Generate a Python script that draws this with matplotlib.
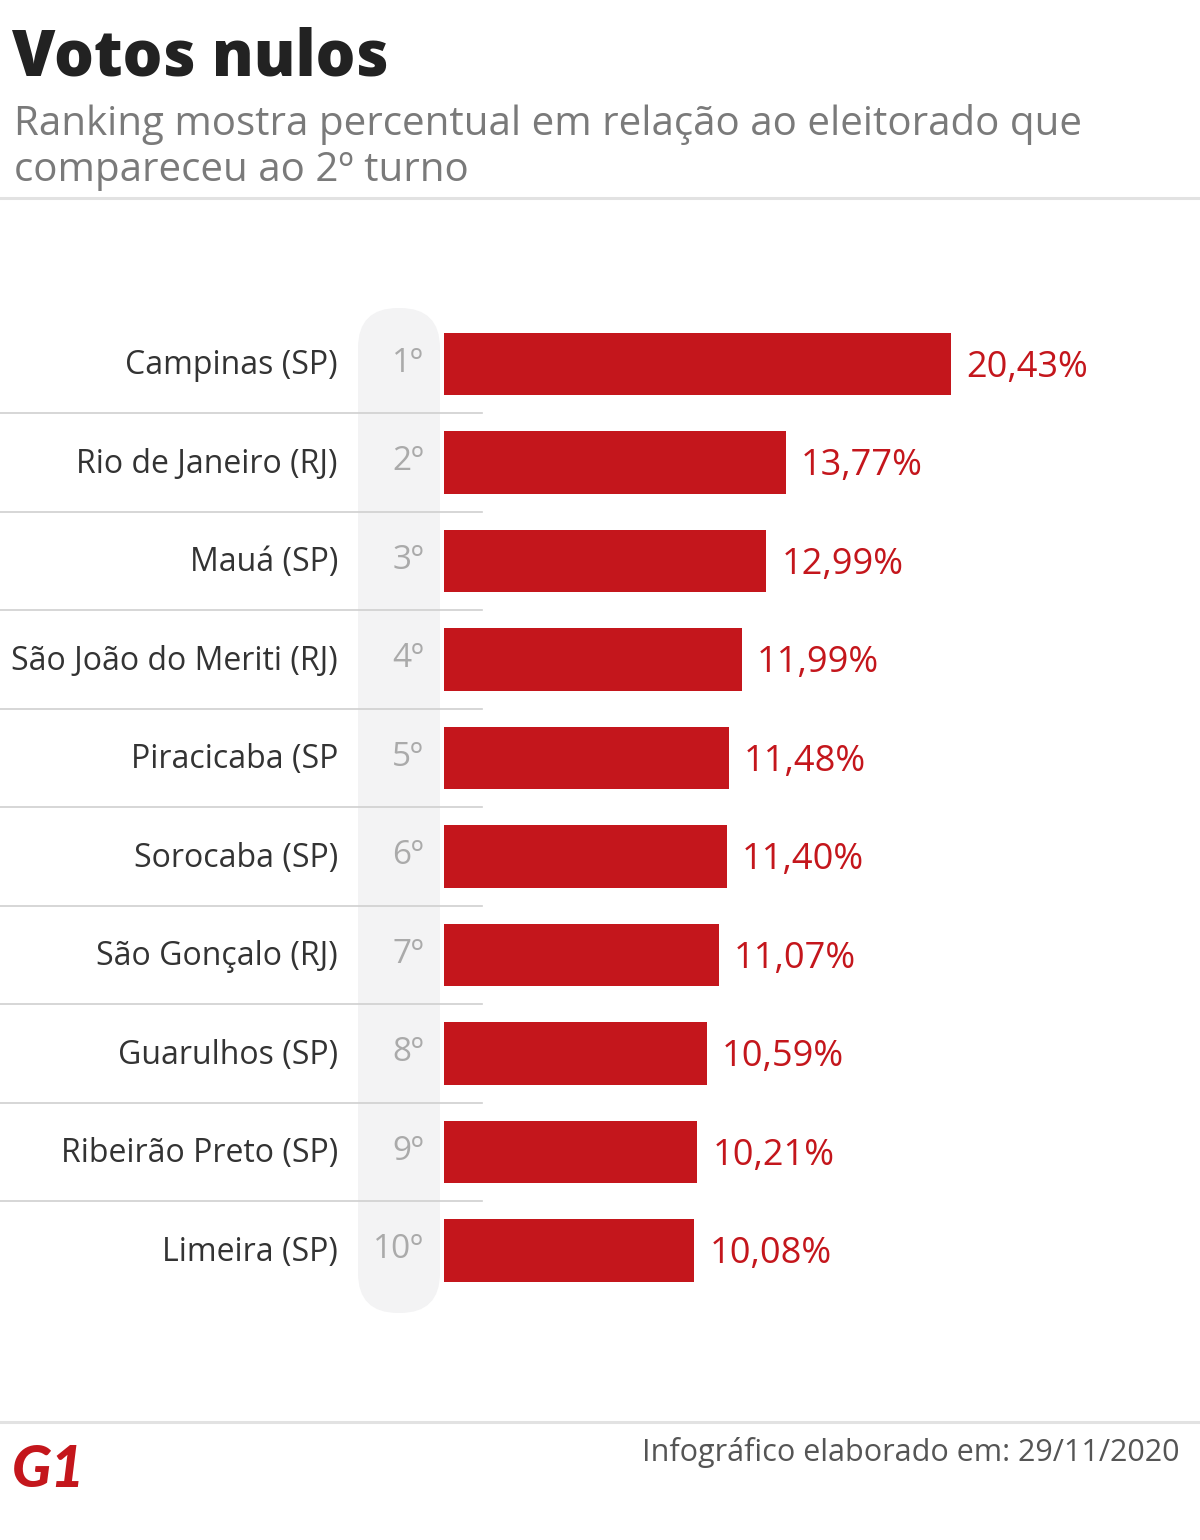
import matplotlib
matplotlib.use("Agg")
import matplotlib.pyplot as plt
from matplotlib.patches import FancyBboxPatch
from matplotlib.transforms import blended_transform_factory

cities = ["Campinas (SP)", "Rio de Janeiro (RJ)", "Mauá (SP)", "São João do Meriti (RJ)",
          "Piracicaba (SP", "Sorocaba (SP)", "São Gonçalo (RJ)", "Guarulhos (SP)",
          "Ribeirão Preto (SP)", "Limeira (SP)"]
ranks = ["1º", "2º", "3º", "4º", "5º", "6º", "7º", "8º", "9º", "10º"]
values = [20.43, 13.77, 12.99, 11.99, 11.48, 11.40, 11.07, 10.59, 10.21, 10.08]
value_labels = ["20,43%", "13,77%", "12,99%", "11,99%", "11,48%", "11,40%",
                "11,07%", "10,59%", "10,21%", "10,08%"]

W, H = 1200, 1540
RED = "#c4161c"
FONT = "Open Sans"
plt.rcParams["font.family"] = [FONT, "DejaVu Sans"]

fig = plt.figure(figsize=(W / 100, H / 100), dpi=100)
fig.patch.set_facecolor("white")

def fx(px):
    return px / W

def fy(py):
    return 1 - py / H

# Title and subtitle
fig.text(fx(12), fy(75), "Votos nulos", fontsize=45, fontweight=800,
         color="#222222", va="baseline", ha="left")
fig.text(fx(14), fy(135), "Ranking mostra percentual em relação ao eleitorado que",
         fontsize=29, color="#7a7a7a", va="baseline", ha="left")
fig.text(fx(14), fy(181), "compareceu ao 2º turno",
         fontsize=29, color="#7a7a7a", va="baseline", ha="left")

# Header / footer rules
fig.add_artist(plt.Line2D([0, 1], [fy(198), fy(198)], color="#e2e2e2", lw=2.2))
fig.add_artist(plt.Line2D([0, 1], [fy(1422), fy(1422)], color="#e2e2e2", lw=2.2))

# Grey rank column (rounded)
col = FancyBboxPatch((3.58, (H - 1313) / 100), 0.82, (1313 - 308) / 100,
                     boxstyle="round,pad=0,rounding_size=0.4",
                     transform=fig.dpi_scale_trans, facecolor="#f3f3f4",
                     edgecolor="none", zorder=0)
fig.add_artist(col)

# Bars axes
row_h = 98.5
top = 364 - row_h / 2
bottom = top + row_h * len(values)
ax = fig.add_axes([fx(444), fy(bottom), fx(1200) - fx(444), (bottom - top) / H])
ax.set_xlim(0, 756 / (507 / 20.43))
ax.set_ylim(len(values) - 0.5, -0.5)
ax.axis("off")
ax.patch.set_alpha(0)

ypos = list(range(len(values)))
ax.barh(ypos, values, height=0.63, color=RED, zorder=3)

tr = blended_transform_factory(fig.transFigure, ax.transData)
for i in range(len(values) - 1):
    ax.plot([0, fx(482)], [i + 0.5, i + 0.5], color="#cfcfcf", lw=1.2,
            transform=tr, clip_on=False, zorder=1)

for i, (c, r, v, lab) in enumerate(zip(cities, ranks, values, value_labels)):
    ax.text(fx(338), i + 0.02, c, transform=tr, ha="right", va="center",
            fontsize=23, color="#333333")
    ax.text(fx(424), i - 0.01, r, transform=tr, ha="right", va="center",
            fontsize=24, color="#aaaaaa")
    ax.annotate(lab, (v, i + 0.04), xytext=(11, 0), textcoords="offset points",
                ha="left", va="center", fontsize=26, color=RED)

# Footer
fig.text(fx(1180), fy(1461), "Infográfico elaborado em: 29/11/2020",
         fontsize=22, color="#555555", ha="right", va="baseline")
fig.text(fx(12), fy(1487), "G1", fontsize=42, fontweight="black",
         fontstyle="italic", color=RED, ha="left", va="baseline",
         family=["Lato", "DejaVu Sans"])

fig.savefig("out.png", dpi=100, facecolor="white")
